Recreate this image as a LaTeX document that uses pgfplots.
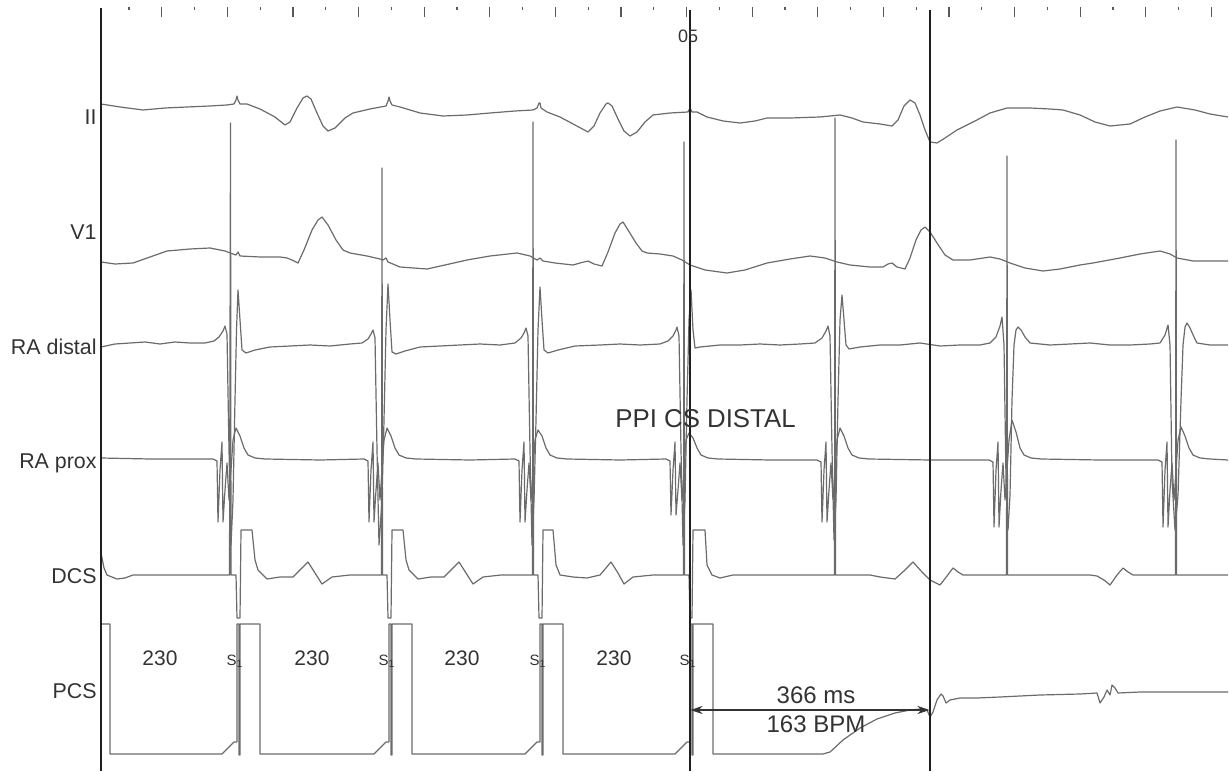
\documentclass[border=0pt]{standalone}
\usepackage{pgfplots}
\pgfplotsset{compat=1.18}
\usepackage{fontspec}
\setmainfont{Liberation Sans}
\usetikzlibrary{arrows.meta}
\begin{document}
\begin{tikzpicture}
\pgfplotsset{
  tr/.style={black!58, line width=0.6pt, mark=none, line join=round},
  vl/.style={black!88, line width=0.75pt, mark=none},
}
\tikzset{lab/.style={font=\fontsize{10.7}{12}\selectfont, text=black!80, inner sep=0pt},
  num/.style={font=\fontsize{10.5}{12}\selectfont, text=black!80, inner sep=0pt, anchor=base},
  sone/.style={font=\fontsize{7.5}{8}\selectfont, text=black!80, inner sep=0pt, anchor=base}}
\begin{axis}[
  scale only axis, width=614.5pt, height=385.5pt,
  xmin=0, xmax=1229, ymin=0, ymax=771, y dir=reverse,
  hide axis, clip=false,
]
\addplot[draw=none] coordinates {(0,0) (1229,771)};

% top time ticks
\addplot[black!65, line width=0.6pt, mark=none, unbounded coords=jump] coordinates {
(129.0,7) (129.0,10) (129.0,nan) (161.8,7) (161.8,17) (161.8,nan)
(194.6,7) (194.6,10) (194.6,nan) (227.4,7) (227.4,17) (227.4,nan)
(260.2,7) (260.2,10) (260.2,nan) (293.0,7) (293.0,17) (293.0,nan)
(325.8,7) (325.8,10) (325.8,nan) (358.6,7) (358.6,17) (358.6,nan)
(391.4,7) (391.4,10) (391.4,nan) (424.2,7) (424.2,17) (424.2,nan)
(457.0,7) (457.0,10) (457.0,nan) (489.8,7) (489.8,17) (489.8,nan)
(522.6,7) (522.6,10) (522.6,nan) (555.4,7) (555.4,17) (555.4,nan)
(588.2,7) (588.2,10) (588.2,nan) (621.0,7) (621.0,17) (621.0,nan)
(653.8,7) (653.8,10) (653.8,nan) (686.6,7) (686.6,17) (686.6,nan)
(719.4,7) (719.4,10) (719.4,nan) (752.2,7) (752.2,17) (752.2,nan)
(785.0,7) (785.0,10) (785.0,nan) (817.8,7) (817.8,17) (817.8,nan)
(850.6,7) (850.6,10) (850.6,nan) (883.4,7) (883.4,17) (883.4,nan)
(916.2,7) (916.2,10) (916.2,nan) (949.0,7) (949.0,17) (949.0,nan)
(981.8,7) (981.8,10) (981.8,nan) (1014.6,7) (1014.6,17) (1014.6,nan)
(1047.4,7) (1047.4,10) (1047.4,nan) (1080.2,7) (1080.2,17) (1080.2,nan)
(1113.0,7) (1113.0,10) (1113.0,nan) (1145.8,7) (1145.8,17) (1145.8,nan)
(1178.6,7) (1178.6,10) (1178.6,nan) (1211.4,7) (1211.4,17)
};

% II
\addplot[tr] coordinates {
(101,104) (120,107) (143,110) (165,108) (187,107) (210,106) (227,105) (234,104) (236,100) (237,96) (238,100) (240,104) (247,104) (260,109) (275,117) (285,125) (290,122) (297,108) (303,98) (307,96) (311,99) (317,113) (323,126) (328,131) (335,128) (345,118) (353,113) (370,109) (386,106) (388,101) (389,97) (390,101) (392,105) (400,107) (420,113) (443,116) (467,115) (490,113) (515,111) (533,110) (537,108) (539,103) (540,103) (541,108) (547,112) (560,117) (575,125) (588,132) (594,126) (600,113) (606,104) (608,103) (612,106) (618,119) (624,131) (630,136) (637,132) (645,122) (653,115) (670,113) (688,112) (690,108) (692,112) (697,112) (707,117) (723,121) (740,123) (755,121) (767,118) (790,118) (820,117) (840,115) (852,118) (863,122) (880,124) (892,126) (898,120) (904,106) (910,100) (915,103) (920,115) (925,130) (930,142) (937,143) (945,138) (957,130) (975,121) (990,113) (1007,108) (1030,108) (1050,109) (1063,110) (1080,115) (1095,122) (1110,126) (1130,124) (1145,117) (1160,111) (1177,107) (1195,110) (1210,114) (1228,117)
};

% V1
\addplot[tr] coordinates {
(101,262) (115,264) (133,263) (150,257) (167,251) (190,249) (210,248) (225,251) (233,254) (236,255) (238,252) (240,256) (260,257) (280,257) (287,258) (292,260) (298,263) (304,250) (312,230) (318,220) (322,217) (328,225) (336,240) (343,250) (350,253) (367,256) (380,259) (383,260) (386,258) (388,262) (400,267) (427,269) (445,265) (467,260) (490,256) (517,253) (530,256) (537,260) (540,258) (543,261) (555,263) (573,265) (580,263) (588,261) (594,264) (602,266) (608,252) (615,233) (620,224) (623,222) (628,230) (636,243) (642,251) (647,253) (660,254) (673,256) (682,260) (690,265) (705,270) (727,273) (745,270) (767,263) (790,259) (810,256) (825,258) (837,262) (850,265) (870,267) (883,267) (888,264) (892,263) (897,267) (905,269) (910,258) (916,240) (921,230) (925,227) (930,232) (937,243) (945,255) (953,260) (970,260) (990,257) (1000,259) (1010,263) (1025,268) (1043,271) (1060,269) (1080,265) (1093,263) (1120,258) (1140,254) (1160,251) (1170,254) (1177,258) (1193,261) (1210,261) (1228,261)
};

% RA distal
\addplot[tr] coordinates {
(101,347) (115,344) (130,343) (145,342) (160,344) (175,342) (190,343) (205,343) (214,341) (219,337) (223,331) (225,326) (227,334) (229,450) (231,545) (233,500) (235,400) (236.5,330) (238,290) (240,320) (242,350) (246,353) (255,350) (270,347) (290,346) (310,345) (330,346) (350,344) (362,343) (368,339) (371,334) (373,330) (375,338) (377,450) (379,545) (382,500) (384,420) (386,330) (388,284) (390,320) (392,352) (396,354) (405,351) (420,347) (440,346) (460,345) (480,344) (500,345) (515,343) (521,338) (524,333) (526,328) (528,336) (530,450) (532,545) (534,500) (536,420) (538,330) (540,287) (542,320) (544,350) (548,353) (558,350) (575,346) (600,345) (620,344) (640,345) (660,344) (668,341) (673,336) (676,330) (677,327) (679,336) (681,450) (683,545) (685,500) (687,400) (689,320) (691,290) (693,330) (695,348) (700,347) (720,345) (740,345) (760,344) (780,345) (800,344) (815,343) (822,338) (826,331) (828,326) (830,336) (832,450) (834,540) (836,500) (838,400) (840,320) (842,295) (844,320) (846,345) (849,349) (860,347) (880,345) (900,345) (920,343) (940,346) (960,345) (980,345) (990,343) (996,337) (1000,326) (1002,317) (1004,345) (1006,480) (1008,530) (1010,495) (1012,400) (1014,345) (1016,330) (1018,327) (1021,330) (1025,337) (1030,343) (1050,345) (1070,344) (1090,343) (1110,345) (1130,345) (1150,344) (1160,343) (1165,335) (1168,325) (1170,345) (1172,480) (1175,530) (1178,495) (1181,400) (1183,345) (1185,327) (1187,323) (1190,328) (1194,337) (1197,343) (1210,345) (1228,345)
};

% RA prox
\addplot[tr] coordinates {
(101,458) (150,459) (200,459) (213,459) (217,461) (218,522) (220,470) (222,442) (223,522) (225,490) (227,463) (229,500) (231,470) (233,440) (236,428) (240,436) (244,448) (248,455) (255,458) (265,459)
(320,460) (364,459) (368,461) (369,522) (371,470) (373,442) (374,522) (376,490) (378,463) (380,500) (382,470) (384,440) (387,428) (391,436) (395,448) (399,455) (406,458) (416,459)
(470,460) (515,459) (519,461) (520,522) (522,470) (524,442) (525,522) (527,490) (529,463) (531,500) (533,470) (535,440) (538,430) (542,436) (546,448) (550,455) (557,458) (567,459)
(620,460) (666,459) (670,461) (671,515) (673,470) (675,442) (676,515) (678,490) (680,463) (682,500) (684,470) (686,440) (689,433) (693,438) (697,448) (701,455) (708,458) (718,459)
(770,460) (817,460) (821,462) (822,522) (824,470) (826,442) (827,522) (829,490) (831,463) (833,500) (835,470) (837,440) (840,428) (844,436) (848,448) (852,455) (859,458) (869,459)
(930,460) (989,460) (993,462) (994,527) (996,470) (998,442) (999,527) (1001,490) (1003,463) (1005,500) (1007,470) (1009,440) (1012,420) (1016,432) (1020,448) (1024,455) (1031,458) (1041,459)
(1100,460) (1158,460) (1162,462) (1163,527) (1165,470) (1167,442) (1168,527) (1170,490) (1172,463) (1174,500) (1176,470) (1178,440) (1181,427) (1185,436) (1189,448) (1193,455) (1200,458) (1210,459) (1228,460)
};

% DCS
\addplot[tr] coordinates {
(101,553) (104,568) (107,575) (117,579) (125,578) (133,575) (160,575) (200,575) (229.5,575) (230.5,123) (231,575) (236,575) (237,618) (240,618) (241,530) (252,530) (255,560) (258,570) (263,575) (267,579) (280,577) (293,577) (300,570) (308,562) (315,573) (322,584) (332,577) (350,575) (381.5,575) (382,168) (382.5,575) (387,575) (388,618) (391,618) (392,530) (403,530) (406,560) (409,570) (414,575) (418,579) (431,577) (444,577) (451,570) (459,562) (466,573) (473,584) (483,577) (501,575) (532.5,575) (533,122) (533.5,575) (538,575) (539,618) (542,618) (543,530) (553,530) (556,565) (560,575) (573,577) (587,578) (600,575) (611,562) (618,573) (624,584) (633,577) (653,575) (683.5,575) (684,142) (684.5,575) (689,575) (690,618) (692,618) (693,530) (705,530) (707,565) (712,575) (720,578) (733,575) (780,575) (834.5,575) (835,118) (835.5,575) (870,575) (880,577) (895,579) (905,570) (913,562) (922,572) (930,580) (940,585) (947,576) (953,568) (958,572) (963,575) (1006.5,575) (1007,156) (1007.5,575) (1050,575) (1090,575) (1097,576) (1104,580) (1110,585) (1117,575) (1123,568) (1128,572) (1133,575) (1175.5,575) (1176,140) (1176.5,575) (1228,575)
};

% PCS
\addplot[tr] coordinates {
(101,624) (110,624) (110,754) (222,754) (234,742) (237,742) (237,624) (239,624) (239,755) (240,755) (240,624) (260,624) (260,754) (374,754) (386,742) (389,742) (389,624) (391,624) (391,755) (392,755) (392,624) (412,624) (412,754) (525,754) (537,742) (540,742) (540,624) (542,624) (542,755) (543,755) (543,624) (563,624) (563,754) (675,754) (687,742) (690,742) (690,624) (692,624) (692,755) (693,755) (693,624) (713,624) (713,754) (823,754) (830,752) (843,740) (860,728) (877,719) (895,713) (910,710) (920,709) (927,710) (930,717) (933,712) (937,700) (941,694) (943,696) (946,703) (950,700) (960,698) (977,698) (1000,697) (1040,695) (1080,694) (1097,693) (1100,703) (1104,697) (1107,690) (1110,695) (1112,685) (1115,688) (1118,693) (1140,692) (1180,692) (1228,692)
};

% vertical reference lines
\addplot[vl] coordinates {(101,8) (101,771)};
\addplot[vl] coordinates {(690,10) (690,771)};
\addplot[vl] coordinates {(930,10) (930,771)};

% interval arrow
\addplot[black!80, line width=0.6pt, mark=none, {Stealth[length=6pt,width=4pt]}-{Stealth[length=6pt,width=4pt]}] coordinates {(690.5,710) (929.5,710)};

% channel labels
\node[lab, anchor=base east] at (axis cs:97,125) {II};
\node[lab, anchor=base east] at (axis cs:97,240) {V1};
\node[lab, anchor=base east] at (axis cs:97,354) {RA distal};
\node[lab, anchor=base east] at (axis cs:97,468) {RA prox};
\node[lab, anchor=base east] at (axis cs:97,583) {DCS};
\node[lab, anchor=base east] at (axis cs:97,698) {PCS};

\node[lab, anchor=base, font=\fontsize{9}{10}\selectfont] at (axis cs:688,43) {05};
\node[lab, anchor=base west, font=\fontsize{12.9}{14}\selectfont] at (axis cs:615,427) {PPI CS DISTAL};

\node[num] at (axis cs:160,665) {230};
\node[num] at (axis cs:312,665) {230};
\node[num] at (axis cs:462,665) {230};
\node[num] at (axis cs:614,665) {230};
\node[sone] at (axis cs:235,665) {S\textsubscript{1}};
\node[sone] at (axis cs:387,665) {S\textsubscript{1}};
\node[sone] at (axis cs:538,665) {S\textsubscript{1}};
\node[sone] at (axis cs:688,665) {S\textsubscript{1}};
\node[lab, anchor=base, font=\fontsize{12}{13}\selectfont] at (axis cs:816,703) {366 ms};
\node[lab, anchor=base, font=\fontsize{12}{13}\selectfont] at (axis cs:816,732) {163 BPM};
\end{axis}
\end{tikzpicture}
\end{document}
